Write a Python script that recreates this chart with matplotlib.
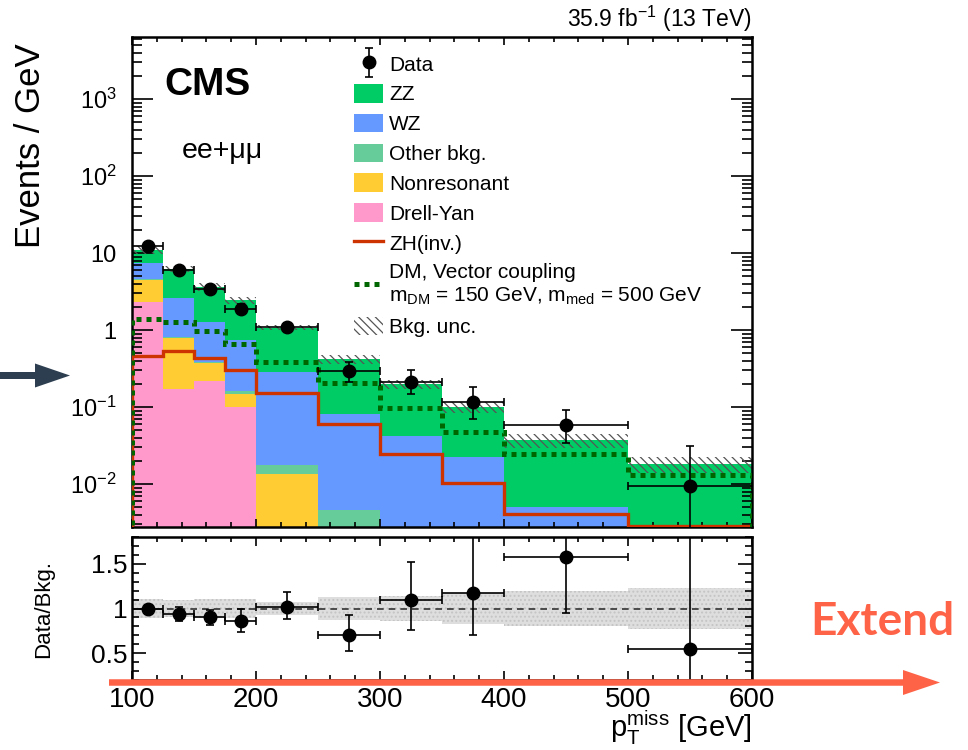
import numpy as np
import matplotlib
matplotlib.use('Agg')
import matplotlib.pyplot as plt
from matplotlib.patches import FancyArrow, Patch
from matplotlib.lines import Line2D
from matplotlib.ticker import MultipleLocator, LogLocator, FuncFormatter, NullFormatter
from matplotlib.legend_handler import HandlerErrorbar

plt.rcParams['font.family'] = ['Liberation Sans', 'DejaVu Sans']
plt.rcParams['mathtext.fontset'] = 'custom'
plt.rcParams['mathtext.rm'] = 'Liberation Sans'
plt.rcParams['mathtext.it'] = 'Liberation Sans:italic'
plt.rcParams['mathtext.bf'] = 'Liberation Sans:bold'
plt.rcParams['hatch.linewidth'] = 0.9

# binning in pT miss (GeV)
edges = np.array([100, 125, 150, 175, 200, 250, 300, 350, 400, 500, 600])

# backgrounds, events / GeV, stacked bottom -> top
drell_yan = [2.33, 0.17, 0.22, 0.10, 0, 0, 0, 0, 0, 0]
nonres = [2.17, 0.63, 0.15, 0.05, 0.0135, 0, 0, 0, 0, 0]
other_bkg = [0.05, 0.01, 0.01, 0.01, 0.0042, 0.0046, 0, 0, 0, 0]
wz = [2.85, 1.82, 0.90, 0.58, 0.27, 0.076, 0.042, 0.0226, 0.0050, 0.0]
zz = [3.6, 3.57, 2.37, 1.71, 0.79, 0.34, 0.158, 0.077, 0.032, 0.018]
bkg_unc = [0.11, 0.09, 0.11, 0.11, 0.07, 0.13, 0.136, 0.17, 0.195, 0.23]

# signals
zh_inv = [0.46, 0.53, 0.44, 0.30, 0.154, 0.060, 0.0244, 0.0102, 0.0041, 0.00285]
dm_vector = [1.38, 1.26, 0.98, 0.65, 0.38, 0.203, 0.096, 0.047, 0.0245, 0.013]

# data
data = [12.3, 6.0, 3.4, 1.9, 1.1, 0.29, 0.21, 0.116, 0.059, 0.0094]
data_lo = [0.6, 0.45, 0.3, 0.25, 0.15, 0.08, 0.062, 0.047, 0.025, 0.0093]
data_hi = [0.6, 0.45, 0.3, 0.25, 0.15, 0.09, 0.09, 0.068, 0.032, 0.0216]

# data / background
ratio = [0.99, 0.94, 0.90, 0.86, 1.02, 0.70, 1.09, 1.17, 1.58, 0.55]
ratio_lo = [0.05, 0.08, 0.09, 0.12, 0.14, 0.18, 0.33, 0.47, 0.63, 0.55]
ratio_hi = [0.05, 0.08, 0.08, 0.13, 0.16, 0.23, 0.43, 0.75, 0.90, 1.60]

centers = 0.5 * (edges[1:] + edges[:-1])
halfw = 0.5 * (edges[1:] - edges[:-1])

stack = [
    (drell_yan, '#ff99cc', 'Drell-Yan'),
    (nonres, '#ffcc33', 'Nonresonant'),
    (other_bkg, '#66cc99', 'Other bkg.'),
    (wz, '#6699ff', 'WZ'),
    (zz, '#00cc66', 'ZZ'),
]

fig = plt.figure(figsize=(9.68, 7.5), dpi=100)
ax = fig.add_axes([132 / 968, 1 - 527 / 750, 620 / 968, 490 / 750])
rax = fig.add_axes([132 / 968, 1 - 680 / 750, 620 / 968, 143 / 750])

# stacked backgrounds
floor = 1e-5
bottom = np.zeros(len(centers))
for vals, col, lab in stack:
    top = bottom + np.array(vals)
    ax.stairs(top, edges, baseline=np.maximum(bottom, floor), fill=True,
              color=col, linewidth=0, zorder=1)
    bottom = top
total = bottom
unc = np.array(bkg_unc)
ax.stairs(total * (1 + unc), edges, baseline=total * (1 - unc), fill=True,
          facecolor='none', edgecolor='#555555', hatch='\\\\\\\\', linewidth=0, zorder=2)

# signals
ax.stairs(zh_inv, edges, baseline=floor, color='#cc3300', linewidth=2.4, zorder=3)
ax.stairs(dm_vector, edges, baseline=floor, color='#006600', linewidth=3.6,
          linestyle=(0, (1, 1)), zorder=3)

data_eb = ax.errorbar(centers, data, xerr=halfw, yerr=[data_lo, data_hi], fmt='o',
                      color='black', markersize=9, elinewidth=1.2, capsize=3,
                      capthick=1.2, zorder=5)

ax.set_xlim(100, 600)
ax.set_yscale('log')
ax.set_ylim(2.77e-3, 6.4e3)


def log_label(v, pos):
    if np.isclose(v, 1):
        return '1'
    if np.isclose(v, 10):
        return '10'
    return r'$10^{%d}$' % int(round(np.log10(v)))


ax.yaxis.set_major_locator(LogLocator(base=10, numticks=20))
ax.yaxis.set_minor_locator(LogLocator(base=10, subs=np.arange(2, 10), numticks=20))
ax.yaxis.set_major_formatter(FuncFormatter(log_label))
ax.yaxis.set_minor_formatter(NullFormatter())
ax.xaxis.set_major_locator(MultipleLocator(100))
ax.xaxis.set_minor_locator(MultipleLocator(20))
ax.tick_params(which='both', direction='in', top=True, right=True, labelbottom=False)
ax.tick_params(axis='x', which='major', length=6, width=1.2)
ax.tick_params(axis='x', which='minor', length=3.5, width=1.2)
ax.tick_params(axis='y', which='major', length=15, width=1.2, labelsize=17, pad=11)
ax.tick_params(axis='y', which='minor', length=7.5, width=1.2)
for sp in ax.spines.values():
    sp.set_linewidth(1.8)

ax.set_ylabel('Events / GeV', fontsize=25, loc='top')
ax.yaxis.set_label_coords(-0.137, 0.988)

ax.text(0.053, 0.882, 'CMS', transform=ax.transAxes, fontsize=28,
        fontweight='bold', va='baseline')
ax.text(0.08, 0.753, 'ee+\u03bc\u03bc', transform=ax.transAxes, fontsize=20.5,
        va='baseline')
ax.text(1.0, 1.02, r'35.9 fb$^{-1}$ (13 TeV)', transform=ax.transAxes,
        fontsize=16.5, ha='right', va='baseline')

handles = [data_eb] + [Patch(facecolor=c, edgecolor='none') for _, c, _ in stack[::-1]] + [
    Line2D([], [], color='#cc3300', linewidth=2.4),
    Line2D([], [], color='#006600', linewidth=3.6, linestyle=(0, (1, 1))),
    Patch(facecolor='none', edgecolor='#555555', hatch='\\\\\\\\', linewidth=0),
]
labels = ['Data'] + [lab for _, _, lab in stack[::-1]] + [
    'ZH(inv.)',
    'DM, Vector coupling\n' + r'$\mathrm{m}_{\mathrm{DM}}$ = 150 GeV, $\mathrm{m}_{\mathrm{med}}$ = 500 GeV',
    'Bkg. unc.',
]
leg = ax.legend(handles, labels, loc='upper left', bbox_to_anchor=(0.358, 0.965),
                frameon=False, fontsize=15, handlelength=1.4, handleheight=1.0,
                handletextpad=0.3, labelspacing=0.45, borderpad=0, borderaxespad=0,
                handler_map={data_eb: HandlerErrorbar(xerr_size=0, yerr_size=0.7)})
for t in leg.get_texts():
    t.set_linespacing(1.25)

# ratio panel
rax.stairs(1 + unc, edges, baseline=1 - unc, fill=True, facecolor='#dedede',
           edgecolor='#c4c4c4', hatch='....', linewidth=0, zorder=1)
rax.axhline(1, color='#333333', linestyle=(0, (4, 3)), linewidth=1.2, zorder=2)
rax.errorbar(centers, ratio, xerr=halfw, yerr=[ratio_lo, ratio_hi], fmt='o',
             color='black', markersize=9, elinewidth=1.2, capsize=3, capthick=1.2,
             zorder=5)
rax.set_xlim(100, 600)
rax.set_ylim(0.2, 1.8)
rax.xaxis.set_major_locator(MultipleLocator(100))
rax.xaxis.set_minor_locator(MultipleLocator(20))
rax.yaxis.set_major_locator(MultipleLocator(0.5))
rax.yaxis.set_minor_locator(MultipleLocator(0.1))
rax.yaxis.set_major_formatter(FuncFormatter(lambda v, p: '%g' % v))
rax.tick_params(which='both', direction='in', top=True, right=True)
rax.tick_params(axis='x', which='major', length=6.5, width=1.2, labelsize=20, pad=5)
rax.tick_params(axis='x', which='minor', length=3.5, width=1.2)
rax.tick_params(axis='y', which='major', length=10, width=1.2, labelsize=19, pad=3)
rax.tick_params(axis='y', which='minor', length=5, width=1.2)
for sp in rax.spines.values():
    sp.set_linewidth(1.8)
rax.set_ylabel('Data/Bkg.', fontsize=16)
rax.yaxis.set_label_coords(-0.125, 0.5)
rax.set_xlabel(r'$\mathrm{p}_{\mathrm{T}}^{\mathrm{miss}}$ [GeV]', fontsize=21, loc='right',
               labelpad=-3)

# arrows and callout
fig.add_artist(FancyArrow(0.0, 7.5 - 3.755, 0.70, 0, width=0.07, head_width=0.24,
                          head_length=0.35, length_includes_head=True,
                          color='#2c3e50', linewidth=0,
                          transform=fig.dpi_scale_trans))
fig.add_artist(FancyArrow(1.09, 7.5 - 6.825, 8.31, 0, width=0.065, head_width=0.25,
                          head_length=0.37, length_includes_head=True,
                          color='#fe6347', linewidth=0,
                          transform=fig.dpi_scale_trans))
fig.text(810 / 968, 1 - 622 / 750, 'Extend', fontsize=33, fontweight='bold',
         family='Lato', color='#fe6347', ha='left', va='center')

fig.savefig('out.png', dpi=100)
